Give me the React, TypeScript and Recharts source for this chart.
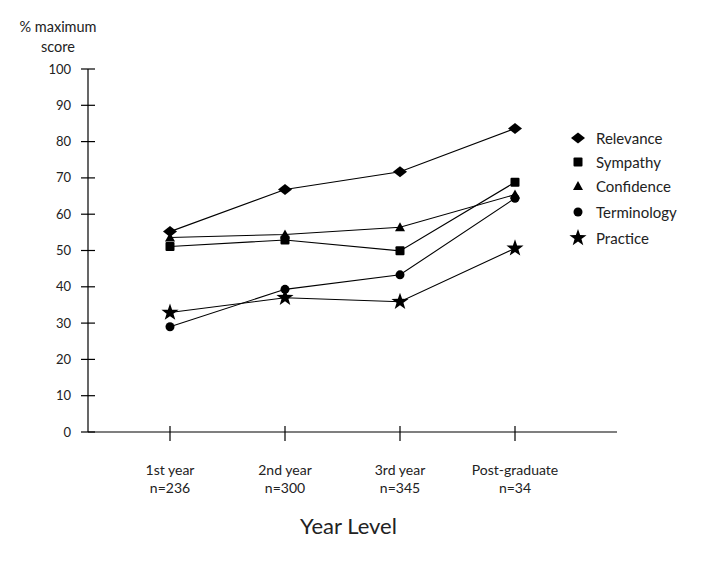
import { LineChart, Line, XAxis, YAxis, Legend, Label } from "recharts"

const years = ["1st year", "2nd year", "3rd year", "Post-graduate"]
const counts = ["n=236", "n=300", "n=345", "n=34"]

const relevance = [55.2, 66.8, 71.7, 83.6]
const sympathy = [51.1, 52.9, 49.9, 68.8]
const confidence = [53.6, 54.4, 56.4, 65.4]
const terminology = [29.0, 39.3, 43.3, 64.4]
const practice = [32.9, 37.0, 35.9, 50.6]

const yTicks = [0, 10, 20, 30, 40, 50, 60, 70, 80, 90, 100]

const data = years.map((year, i) => ({
  year,
  n: counts[i],
  Relevance: relevance[i],
  Sympathy: sympathy[i],
  Confidence: confidence[i],
  Terminology: terminology[i],
  Practice: practice[i],
}))

const FONT = "Lato, 'Open Sans', sans-serif"

type Shape = "diamond" | "square" | "triangle" | "circle" | "star"

const series: { key: string; shape: Shape }[] = [
  { key: "Relevance", shape: "diamond" },
  { key: "Sympathy", shape: "square" },
  { key: "Confidence", shape: "triangle" },
  { key: "Terminology", shape: "circle" },
  { key: "Practice", shape: "star" },
]

function starPoints(cx: number, cy: number, outer: number, inner: number) {
  const pts: string[] = []
  for (let i = 0; i < 10; i++) {
    const r = i % 2 === 0 ? outer : inner
    const a = -Math.PI / 2 + (i * Math.PI) / 5
    pts.push(`${cx + r * Math.cos(a)},${cy + r * Math.sin(a)}`)
  }
  return pts.join(" ")
}

function Marker({ shape, cx, cy }: { shape: Shape; cx: number; cy: number }) {
  switch (shape) {
    case "diamond":
      return <polygon points={`${cx - 7},${cy} ${cx},${cy - 5.5} ${cx + 7},${cy} ${cx},${cy + 5.5}`} fill="#000" />
    case "square":
      return <rect x={cx - 4.5} y={cy - 4.5} width={9} height={9} rx={1} fill="#000" />
    case "triangle":
      return <polygon points={`${cx - 5},${cy + 4} ${cx},${cy - 5} ${cx + 5},${cy + 4}`} fill="#000" />
    case "circle":
      return <circle cx={cx} cy={cy} r={4.5} fill="#000" />
    default:
      return <polygon points={starPoints(cx, cy, 9, 3.6)} fill="#000" />
  }
}

function XTick(props: any) {
  const { x, y, index } = props
  return (
    <g>
      <line x1={x} x2={x} y1={y - 6} y2={y + 9} stroke="#000" strokeWidth={1.2} />
      <text x={x} y={y + 43} textAnchor="middle" fontSize={14} fontFamily={FONT} fill="#222">
        {years[index]}
      </text>
      <text x={x} y={y + 61} textAnchor="middle" fontSize={14} fontFamily={FONT} fill="#222">
        {counts[index]}
      </text>
    </g>
  )
}

function YTick(props: any) {
  const { x, y, payload } = props
  return (
    <g>
      <line x1={x - 7} x2={x + 7} y1={y} y2={y} stroke="#000" strokeWidth={1.2} />
      <text x={x - 17} y={y + 4.5} textAnchor="end" fontSize={13} fontFamily={FONT} fill="#222">
        {payload.value}
      </text>
    </g>
  )
}

function LegendBox() {
  return (
    <div style={{ fontFamily: FONT, fontSize: 15, color: "#222" }}>
      {series.map((s, i) => (
        <div key={s.key} style={{ display: "flex", alignItems: "center", height: i === 3 ? 28 : 24 }}>
          <svg width={20} height={20} style={{ marginRight: 8 }}>
            <Marker shape={s.shape} cx={10} cy={10} />
          </svg>
          <span>{s.key}</span>
        </div>
      ))}
    </div>
  )
}

export default function App() {
  return (
    <div style={{ position: "absolute", left: 0, top: 0, background: "#fff" }}>
      <LineChart width={719} height={562} data={data} margin={{ top: 69, right: 102, bottom: 0, left: 0 }}>
        <XAxis
          dataKey="year"
          height={130}
          padding={{ left: 82, right: 102 }}
          axisLine={{ stroke: "#000", strokeWidth: 1.2 }}
          tickLine={false}
          tickSize={0}
          tickMargin={0}
          tick={<XTick />}
          interval={0}
        >
          <Label
            value="Year Level"
            position="insideBottom"
            offset={28}
            dx={-4}
            style={{ fontFamily: FONT, fontSize: 22, fill: "#222" }}
          />
        </XAxis>
        <YAxis
          width={88}
          domain={[0, 100]}
          ticks={yTicks}
          interval={0}
          axisLine={{ stroke: "#000", strokeWidth: 1.2 }}
          tickLine={false}
          tickSize={0}
          tickMargin={0}
          tick={<YTick />}
        >
          <Label
            content={() => (
              <text fontSize={14.5} fontFamily={FONT} fill="#222" textAnchor="middle">
                <tspan x={58} y={32}>% maximum</tspan>
                <tspan x={58} y={52}>score</tspan>
              </text>
            )}
          />
        </YAxis>
        <Legend
          layout="vertical"
          align="center"
          verticalAlign="middle"
          content={() => <LegendBox />}
          wrapperStyle={{ position: "absolute", left: 568, top: 126, width: 150 }}
        />
        {series.map((s) => (
          <Line
            key={s.key}
            dataKey={s.key}
            stroke="#000"
            strokeWidth={1.1}
            isAnimationActive={false}
            activeDot={false}
            dot={(p: any) => <Marker key={`${s.key}-${p.index}`} shape={s.shape} cx={p.cx} cy={p.cy} />}
          />
        ))}
      </LineChart>
    </div>
  )
}
